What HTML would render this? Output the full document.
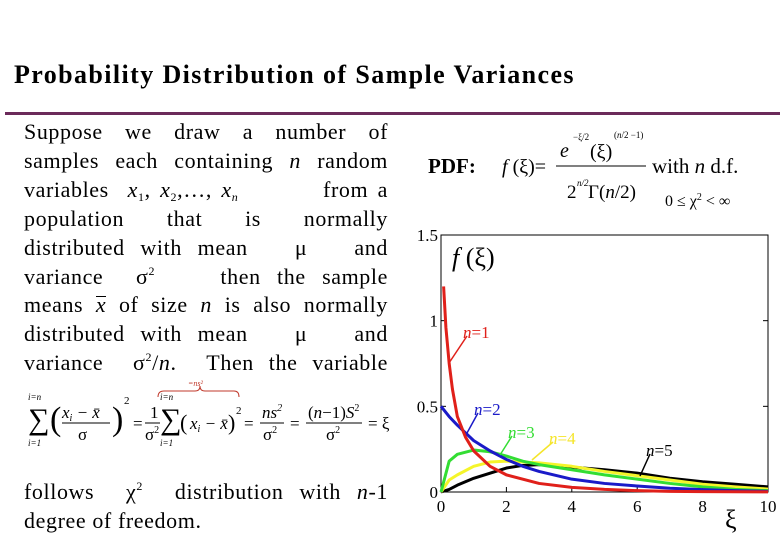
<!DOCTYPE html>
<html><head><meta charset="utf-8">
<style>
body{margin:0;width:780px;height:540px;background:#fff;position:relative;overflow:hidden;font-family:"Liberation Serif",serif;color:#000}
.a{position:absolute;white-space:nowrap}
.bt{position:absolute;left:24px;width:364px;height:29px;font-size:22px;line-height:28.7px;letter-spacing:0.6px;text-align:justify;text-align-last:justify;white-space:nowrap}
.bt sup,.bt sub{font-size:12px;line-height:0;position:relative;vertical-align:baseline}
.bt sup{top:-9px}.bt sub{top:4px}
.ov{display:inline-block;line-height:16px;border-top:1.5px solid #000;font-style:italic}
</style></head><body>
<div class="a" style="left:14px;top:60px;font-size:26px;font-weight:bold;letter-spacing:1.4px">Probability Distribution of Sample Variances</div>
<div class="a" style="left:5px;top:112px;width:775px;height:3px;background:#6b2a5a"></div>

<div>
<div class="bt" style="top:118px">Suppose we draw a number of</div>
<div class="bt" style="top:147px">samples each containing <i>n</i> random</div>
<div class="bt" style="top:176px">variables&nbsp;&nbsp;<i>x</i><sub>1</sub>,&nbsp;<i>x</i><sub>2</sub>,…,&nbsp;<i>x<sub>n</sub></i>&nbsp;&nbsp;&nbsp;&nbsp;&nbsp;&nbsp;&nbsp;&nbsp; from a</div>
<div class="bt" style="top:205px">population that is normally</div>
<div class="bt" style="top:234px">distributed with mean &nbsp;&nbsp;μ&nbsp;&nbsp; and</div>
<div class="bt" style="top:263px">variance &nbsp;σ<sup>2</sup>&nbsp;&nbsp;&nbsp; then the sample</div>
<div class="bt" style="top:291px">means <span class="ov">x</span> of size <i>n</i> is also normally</div>
<div class="bt" style="top:320px">distributed with mean &nbsp;&nbsp;μ&nbsp;&nbsp; and</div>
<div class="bt" style="top:349px">variance &nbsp;σ<sup>2</sup>/<i>n</i>. &nbsp;Then the variable</div>
</div>

<svg class="a" style="left:0;top:380px" width="410" height="70" font-family="Liberation Serif" font-size="17">
<text x="28" y="49" font-size="30">∑</text>
<text x="28" y="20" font-size="9" font-style="italic">i=n</text><text x="28" y="66" font-size="9" font-style="italic">i=1</text>
<text x="50" y="50" font-size="34">(</text>
<text x="62" y="38" font-style="italic">x<tspan font-size="10" dy="3">i</tspan><tspan dy="-3"> − x̄</tspan></text>
<line x1="62" y1="43" x2="110" y2="43" stroke="#000"/>
<text x="78" y="60">σ</text>
<text x="112" y="50" font-size="34">)</text><text x="124" y="24" font-size="11">2</text>
<text x="133" y="49">=</text>
<text x="150" y="38">1</text><line x1="145" y1="43" x2="160" y2="43" stroke="#000"/><text x="145" y="60">σ<tspan font-size="10" dy="-7">2</tspan></text>
<text x="160" y="49" font-size="30">∑</text>
<text x="160" y="20" font-size="9" font-style="italic">i=n</text><text x="160" y="66" font-size="9" font-style="italic">i=1</text>
<text x="180" y="50" font-size="22">(</text><text x="190" y="49" font-style="italic">x<tspan font-size="10" dy="3">i</tspan><tspan dy="-3"> − x̄</tspan></text><text x="228" y="50" font-size="22">)</text><text x="236" y="34" font-size="11">2</text>
<path d="M158 17 Q158 11 164 11 L195 11 Q200 11 200 6 Q200 11 205 11 L234 11 Q239 11 239 17" fill="none" stroke="#c0392b"/>
<text x="188" y="6" font-size="8" fill="#c0392b" font-style="italic">=ns²</text>
<text x="244" y="49">=</text>
<text x="262" y="38" font-style="italic">ns<tspan font-size="10" dy="-7">2</tspan></text><line x1="260" y1="43" x2="284" y2="43" stroke="#000"/><text x="263" y="60">σ<tspan font-size="10" dy="-7">2</tspan></text>
<text x="290" y="49">=</text>
<text x="308" y="38">(<tspan font-style="italic">n</tspan>−1)<tspan font-style="italic">S</tspan><tspan font-size="10" dy="-7">2</tspan></text><line x1="306" y1="43" x2="362" y2="43" stroke="#000"/><text x="326" y="60">σ<tspan font-size="10" dy="-7">2</tspan></text>
<text x="368" y="49">= ξ</text>
</svg>

<div class="bt" style="top:478px">follows &nbsp;χ<sup>2</sup>&nbsp; distribution with <i>n</i>-1</div>
<div class="a" style="left:24px;top:507px;font-size:22px;line-height:28.7px;letter-spacing:0.6px">degree of freedom.</div>

<svg class="a" style="left:420px;top:120px" width="360" height="100" font-family="Liberation Serif">
<text x="8" y="53" font-size="21" font-weight="bold">PDF:</text>
<text x="82" y="53" font-size="20"><tspan font-style="italic">f</tspan> (ξ)=</text>
<text x="140" y="37" font-size="20" font-style="italic">e</text>
<text x="153" y="20" font-size="9">−ξ/2</text>
<text x="170" y="38" font-size="20">(ξ)</text>
<text x="194" y="18" font-size="9">(<tspan font-style="italic">n</tspan>/2 −1)</text>
<line x1="136" y1="46" x2="226" y2="46" stroke="#000"/>
<text x="147" y="78" font-size="19">2</text><text x="157" y="66" font-size="9" font-style="italic">n/2</text>
<text x="168" y="78" font-size="19">Γ(<tspan font-style="italic">n</tspan>/2)</text>
<text x="232" y="53" font-size="21">with <tspan font-style="italic">n</tspan> d.f.</text>
<text x="245" y="86" font-size="16">0 ≤ χ<tspan font-size="10" dy="-6">2</tspan><tspan dy="6"> &lt; ∞</tspan></text>
</svg>

<svg class="a" style="left:0;top:0" width="780" height="540" id="chart"></svg>

<script>
const xs1=[0.08,0.15,0.25,0.35,0.5,0.75,1,1.5,2,3,4,5,6,7,8,10];
const y1=[1.2,0.96,0.75,0.6,0.44,0.32,0.24,0.15,0.10,0.05,0.027,0.015,0.008,0.004,0.002,0.001];
const xs=[0,0.25,0.5,1,1.5,2,2.5,3,4,5,6,7,8,9,10];
const y2=[0.5,0.44,0.39,0.30,0.24,0.19,0.15,0.12,0.075,0.05,0.035,0.022,0.014,0.008,0.004];
const y3=[0,0.18,0.22,0.245,0.235,0.21,0.18,0.16,0.13,0.10,0.075,0.05,0.03,0.015,0.008];
const y4=[0,0.07,0.1,0.15,0.175,0.18,0.175,0.17,0.15,0.12,0.095,0.07,0.045,0.03,0.017];
const y5=[0,0.015,0.04,0.08,0.11,0.14,0.155,0.16,0.145,0.13,0.11,0.08,0.06,0.045,0.03];
const xTicks=[0,2,4,6,8,10];
const yTicks=[0,0.5,1,1.5];
const yTickLabels=["0","0.5","1","1.5"];
const X0=441,X1=768,Y0=492,Y1=235;
const sx=v=>X0+(X1-X0)*v/10, sy=v=>Y0-(Y0-Y1)*v/1.5;
const svg=document.getElementById('chart');
const NS='http://www.w3.org/2000/svg';
function mk(t,a){const e=document.createElementNS(NS,t);for(const k in a)e.setAttribute(k,a[k]);svg.appendChild(e);return e;}
const fr=mk('rect',{x:X0,y:Y1,width:X1-X0,height:Y0-Y1,fill:'none',stroke:'#000','stroke-width':1});


xTicks.forEach(t=>{
 const l=mk('line',{x1:sx(t),x2:sx(t),y1:Y0,y2:Y0-5,stroke:'#000'});
 
 
 const tx=mk('text',{x:sx(t),y:Y0+20,'text-anchor':'middle','font-family':'Liberation Serif','font-size':17});
 tx.textContent=t;
 
 
});
yTicks.forEach((t,i)=>{
 const l=mk('line',{x1:X0,x2:X0+5,y1:sy(t),y2:sy(t),stroke:'#000'});
 
 
 const l2=mk('line',{x1:X1,x2:X1-5,y1:sy(t),y2:sy(t),stroke:'#000'});
 
 
 const tx=mk('text',{x:X0-3,y:sy(t)+6,'text-anchor':'end','font-family':'Liberation Serif','font-size':17});
 tx.textContent=yTickLabels[i];
 
 
});
const series=[[xs1,y1,'#e0201a','curve-n1'],[xs,y2,'#1a1ac8','curve-n2'],[xs,y3,'#33dd33','curve-n3'],[xs,y4,'#f5f52a','curve-n4'],[xs,y5,'#000','curve-n5']];
series.slice().reverse().forEach(([a,b,c,n])=>{
 const p=mk('polyline',{points:a.map((v,i)=>sx(v)+','+sy(b[i])).join(' '),fill:'none',stroke:c,'stroke-width':3,'stroke-linejoin':'round'});
 
 
});
const labels=[[463,338,'#e0201a','n=1',449,363],[474,415,'#1a1ac8','n=2',467,433],[508,438,'#33dd33','n=3',500,455],[549,444,'#f5e52a','n=4',532,460],[646,456,'#000','n=5',640,476]];
labels.forEach(([x,y,c,t,lx,ly])=>{
 const l=mk('line',{x1:x+4,y1:y-2,x2:lx,y2:ly,stroke:c,'stroke-width':1.5});
 
 
 const tx=mk('text',{x:x,y:y,fill:c,'font-family':'Liberation Serif','font-size':17});
 tx.innerHTML='<tspan font-style="italic">n</tspan>'+t.slice(1);
 
 
});
const yt=mk('text',{x:452,y:266,'font-family':'Liberation Serif','font-size':26});
yt.innerHTML='<tspan font-style="italic">f</tspan> (ξ)';


const xt=mk('text',{x:725,y:528,'font-family':'Liberation Serif','font-size':26});
xt.textContent='ξ';


</script>
</body></html>
